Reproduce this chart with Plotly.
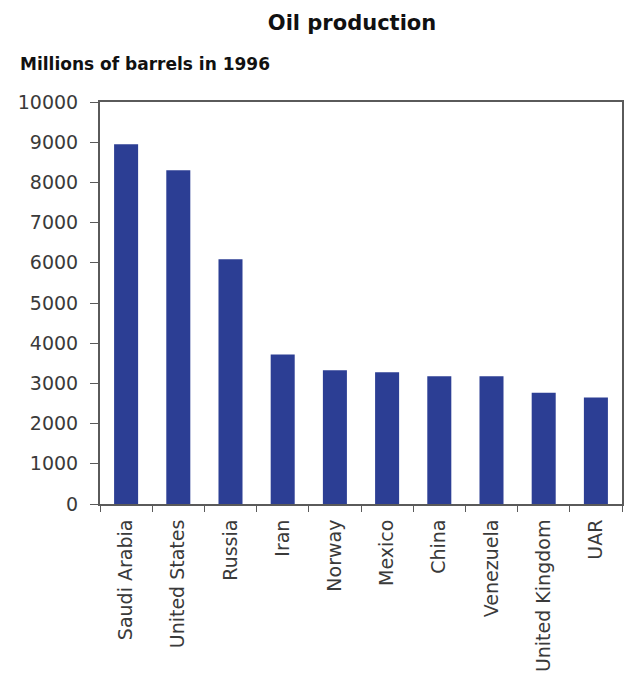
import plotly.graph_objects as go

# Oil production by country, 1996 (millions of barrels)
countries = ["Saudi Arabia", "United States", "Russia", "Iran", "Norway",
             "Mexico", "China", "Venezuela", "United Kingdom", "UAR"]
production = [8950, 8300, 6090, 3720, 3330, 3280, 3180, 3180, 2770, 2650]

y_ticks = list(range(0, 10001, 1000))

W, H = 634, 696
L, R, T, B = 100, 10, 102, 192

fig = go.Figure(
    go.Bar(
        x=countries,
        y=production,
        marker=dict(color="#2c3e94", line=dict(width=0)),
        width=0.46,
    )
)

axis_line = "#5a5a5a"
tick_font = dict(family="DejaVu Sans", size=19, color="#3a3a3a")

fig.update_layout(
    width=W,
    height=H,
    margin=dict(l=L, r=R, t=T, b=B),
    paper_bgcolor="white",
    plot_bgcolor="white",
    showlegend=False,
    title=dict(
        text="<b>Oil production</b>",
        x=352 / W, xref="container", xanchor="center",
        y=1 - 23 / H, yanchor="middle",
        font=dict(family="DejaVu Sans", size=21, color="#111111"),
    ),
    xaxis=dict(
        type="category",
        tickangle=-90,
        tickson="boundaries",
        ticks="outside",
        ticklen=6,
        tickcolor=axis_line,
        ticklabelstandoff=6,
        showline=True,
        linecolor=axis_line,
        linewidth=2,
        mirror=True,
        showgrid=False,
        tickfont=tick_font,
    ),
    yaxis=dict(
        range=[0, 10000],
        tickvals=y_ticks,
        ticktext=[str(v) for v in y_ticks],
        ticks="outside",
        ticklen=8,
        tickcolor=axis_line,
        ticklabelstandoff=8,
        showline=True,
        linecolor=axis_line,
        linewidth=2,
        mirror=True,
        showgrid=False,
        zeroline=False,
        tickfont=tick_font,
    ),
    annotations=[
        dict(
            text="<b>Millions of barrels in 1996</b>",
            xref="paper", yref="paper",
            x=(18 - L) / (W - L - R), y=(H - B - 64) / (H - T - B),
            xanchor="left", yanchor="middle",
            showarrow=False,
            font=dict(family="DejaVu Sans", size=17, color="#111111"),
        )
    ],
)

fig.write_html("out.html")
